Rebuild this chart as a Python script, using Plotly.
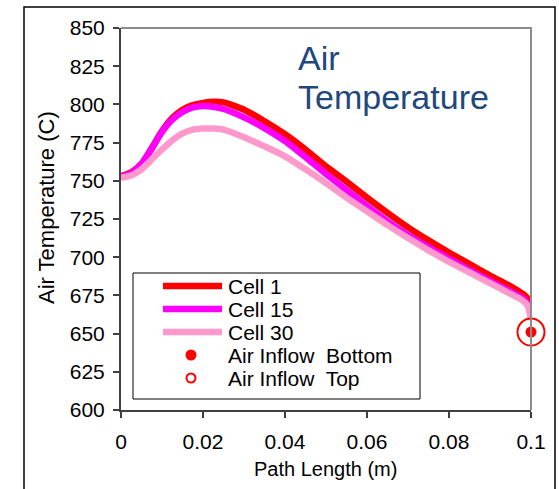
import plotly.graph_objects as go

# Path length along the cell (m)
path_length = [0, 0.0025, 0.005, 0.0075, 0.01, 0.0125, 0.015, 0.0175, 0.02, 0.0225,
               0.025, 0.03, 0.035, 0.04, 0.045, 0.05, 0.055, 0.06, 0.065, 0.07,
               0.075, 0.08, 0.085, 0.09, 0.095, 0.098, 0.099, 0.0995, 0.1]

# Air temperature (C) for three cells of the stack
cell_1 = [753, 755.5, 761, 771.5, 782.5, 791, 796.5, 799.5, 801, 801.7,
          801.3, 796.5, 789, 780.5, 770.5, 759.5, 749.5, 739, 729, 719.5,
          711, 703, 695.5, 688, 681, 676, 673.5, 670.5, 662]
cell_15 = [752.5, 755, 761, 771, 782, 790, 795, 798, 799, 798.5,
           797, 791.5, 784.5, 776, 765.5, 754.5, 744, 733.5, 723.5, 714.5,
           706.5, 699, 691.5, 684.5, 677.5, 673, 670.5, 668, 661]
cell_30 = [752, 753.5, 757.5, 764, 770.5, 776.5, 781, 783.5, 784.2, 784.2,
           783.5, 778.5, 772.5, 766, 757.5, 748.5, 739, 730, 721, 712.5,
           704.5, 697, 690, 683, 676, 671.5, 669, 666, 659]

# Air inflow points
inflow_x = [0.1]
inflow_bottom = [651]
inflow_top = [651]

series_names = ["Cell 1", "Cell 15", "Cell 30"]
series_colors = ["#FF0000", "#FF00FF", "#FF99CC"]
inflow_names = ["Air Inflow\u00a0 Bottom", "Air Inflow\u00a0 Top"]

x_ticks = [0, 0.02, 0.04, 0.06, 0.08, 0.1]
y_ticks = [600, 625, 650, 675, 700, 725, 750, 775, 800, 825, 850]

FONT = "Arial, Liberation Sans, sans-serif"
W, H = 559, 489
ML, MR, MT, MB = 121, 28, 28, 79
PW, PH = W - ML - MR, H - MT - MB


def paper(px, py):
    """Pixel position in the page to paper coordinates."""
    return (px - ML) / PW, (H - MB - py) / PH


fig = go.Figure()

for name, vals, col in zip(series_names, [cell_1, cell_15, cell_30], series_colors):
    fig.add_trace(go.Scatter(x=path_length, y=vals, mode="lines", name=name,
                             line=dict(color=col, width=6.5, shape="spline", smoothing=0.6),
                             showlegend=False))

fig.add_trace(go.Scatter(x=inflow_x, y=inflow_bottom, mode="markers", name=inflow_names[0],
                         marker=dict(color="#FF0000", size=11, symbol="circle"),
                         cliponaxis=False, showlegend=False))
fig.add_trace(go.Scatter(x=inflow_x, y=inflow_top, mode="markers", name=inflow_names[1],
                         marker=dict(color="#FF0000", size=27, symbol="circle-open",
                                     line=dict(width=2, color="#FF0000")),
                         cliponaxis=False, showlegend=False))

shapes = []
annotations = []

# outer chart frame
x0, y0 = paper(24, 500)
x1, y1 = paper(555, 7)
shapes.append(dict(type="rect", xref="paper", yref="paper", x0=x0, y0=y0, x1=x1, y1=y1,
                   line=dict(color="black", width=1.5), layer="below"))

# grey top and right borders of the plot area
shapes.append(dict(type="path", xref="paper", yref="paper",
                   path="M 0,1 L 1,1 L 1,0", line=dict(color="#8C8C8C", width=2)))

# legend box
lx0, ly0 = paper(133, 399)
lx1, ly1 = paper(420, 273)
shapes.append(dict(type="rect", xref="paper", yref="paper", x0=lx0, y0=ly0, x1=lx1, y1=ly1,
                   line=dict(color="black", width=1), fillcolor="white"))

row_y = [286 + 23 * i for i in range(5)]
for i, (name, col) in enumerate(zip(series_names, series_colors)):
    ax0, ay = paper(163, row_y[i])
    ax1, _ = paper(222, row_y[i])
    shapes.append(dict(type="line", xref="paper", yref="paper", x0=ax0, x1=ax1, y0=ay, y1=ay,
                       line=dict(color=col, width=6.5)))
    tx, ty = paper(226, row_y[i])
    annotations.append(dict(xref="paper", yref="paper", x=tx, y=ty, text=name, showarrow=False,
                            xanchor="left", yanchor="middle",
                            font=dict(family=FONT, size=21, color="black")))

# legend symbols for the inflow markers
for i, (name, filled) in enumerate(zip(inflow_names, [True, False])):
    r = 5.5 if filled else 4.5
    cx, cy = 191, row_y[3 + i]
    ax0, ay0 = paper(cx - r, cy + r)
    ax1, ay1 = paper(cx + r, cy - r)
    shapes.append(dict(type="circle", xref="paper", yref="paper", x0=ax0, x1=ax1, y0=ay0, y1=ay1,
                       fillcolor="#FF0000" if filled else "white",
                       line=dict(color="#FF0000", width=0 if filled else 2)))
    tx, ty = paper(226, row_y[3 + i])
    annotations.append(dict(xref="paper", yref="paper", x=tx, y=ty, text=name, showarrow=False,
                            xanchor="left", yanchor="middle",
                            font=dict(family=FONT, size=21, color="black")))

# chart title
for text, py in [("Air", 58), ("Temperature", 97)]:
    tx, ty = paper(296, py)
    annotations.append(dict(xref="paper", yref="paper", x=tx, y=ty, text=text, showarrow=False,
                            xanchor="left", yanchor="middle",
                            font=dict(family=FONT, size=34, color="#1F497D")))

# axis titles
tx, ty = paper(325, 469)
annotations.append(dict(xref="paper", yref="paper", x=tx, y=ty, text="Path Length (m)",
                        showarrow=False, xanchor="center", yanchor="middle",
                        font=dict(family=FONT, size=20, color="black")))
tx, ty = paper(46, 208)
annotations.append(dict(xref="paper", yref="paper", x=tx, y=ty, text="Air Temperature (C)",
                        showarrow=False, xanchor="center", yanchor="middle", textangle=-90,
                        font=dict(family=FONT, size=22, color="black")))

fig.update_layout(
    width=W, height=H,
    margin=dict(l=ML, r=MR, t=MT, b=MB),
    paper_bgcolor="white", plot_bgcolor="white",
    showlegend=False,
    shapes=shapes, annotations=annotations,
    font=dict(family=FONT, size=21, color="black"),
    xaxis=dict(range=[0, 0.1], tickvals=x_ticks, ticktext=[f"{v:g}" for v in x_ticks],
               showgrid=False, zeroline=False, showline=True, linecolor="#404040", linewidth=2,
               ticks="outside", ticklen=6, tickwidth=1.5, tickcolor="#404040",
               ticklabelstandoff=6, tickfont=dict(family=FONT, size=21, color="black")),
    yaxis=dict(range=[600, 850], tickvals=y_ticks,
               showgrid=False, zeroline=False, showline=True, linecolor="#404040", linewidth=2,
               ticks="outside", ticklen=6, tickwidth=1.5, tickcolor="#404040",
               ticklabelstandoff=4, tickfont=dict(family=FONT, size=21, color="black")),
)

fig.write_html("out.html")
